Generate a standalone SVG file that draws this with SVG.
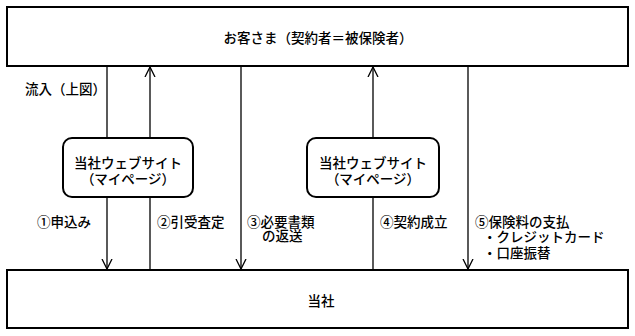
<svg xmlns="http://www.w3.org/2000/svg" width="635" height="336" viewBox="0 0 635 336">
<style>
.box{fill:#fff;stroke:#000;stroke-width:2}
.ln{fill:none;stroke:#000;stroke-width:1.3}
text{font-family:"Noto Sans CJK JP","Noto Sans",sans-serif;font-size:13.5px;font-weight:500;fill:#000}
.c{text-anchor:middle}
</style>
<defs>
<marker id="ah" viewBox="0 0 10 12" refX="10" refY="6" markerWidth="10" markerHeight="12" markerUnits="userSpaceOnUse" orient="auto">
<path d="M0,1 L10,6 L0,11" fill="none" stroke="#000" stroke-width="1.3"/>
</marker>
</defs>
<rect width="635" height="336" fill="#fff"/>
<g id="connectors">
<line class="ln" x1="107" y1="66" x2="107" y2="138"/>
<line class="ln" x1="107" y1="197" x2="107" y2="269" marker-end="url(#ah)"/>
<line class="ln" x1="150" y1="269" x2="150" y2="197"/>
<line class="ln" x1="150" y1="138" x2="150" y2="67" marker-end="url(#ah)"/>
<line class="ln" x1="241" y1="66" x2="241" y2="269" marker-end="url(#ah)"/>
<line class="ln" x1="373" y1="269" x2="373" y2="197"/>
<line class="ln" x1="373" y1="138" x2="373" y2="67" marker-end="url(#ah)"/>
<line class="ln" x1="468" y1="66" x2="468" y2="269" marker-end="url(#ah)"/>
</g>
<g id="customer">
<rect class="box" x="7" y="7" width="621" height="59"/>
<text class="c" x="318" y="43">お客さま（契約者＝被保険者）</text>
</g>
<g id="company">
<rect class="box" x="7" y="270" width="621" height="58"/>
<text class="c" x="321" y="306">当社</text>
</g>
<g id="web1">
<rect class="box" x="63" y="138" width="130" height="59" rx="9"/>
<text class="c" x="128" y="168">当社ウェブサイト</text>
<text class="c" x="128" y="184">（マイページ）</text>
</g>
<g id="web2">
<rect class="box" x="307" y="138" width="132" height="59" rx="9"/>
<text class="c" x="373" y="168">当社ウェブサイト</text>
<text class="c" x="373" y="184">（マイページ）</text>
</g>
<g id="labels">
<text x="25" y="94">流入（上図）</text>
<text x="37" y="227">①申込み</text>
<text x="157" y="227">②引受査定</text>
<text x="247" y="227">③必要書類</text>
<text x="262" y="241">の返送</text>
<text x="380" y="227">④契約成立</text>
<text x="475" y="227">⑤保険料の支払</text>
<text x="483" y="242">・クレジットカード</text>
<text x="483" y="258">・口座振替</text>
</g>
</svg>
